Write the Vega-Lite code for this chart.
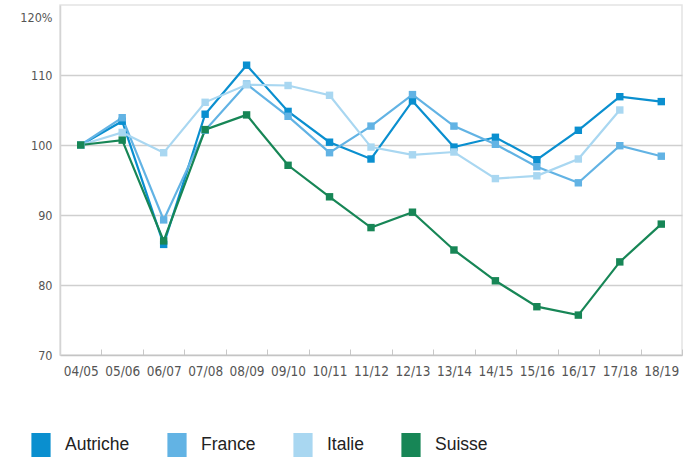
{
  "$schema": "https://vega.github.io/schema/vega-lite/v6.json",
  "width": 622,
  "height": 350,
  "autosize": {"type": "none"},
  "padding": {"left": 60, "top": 5, "right": 11, "bottom": 106},
  "background": "white",
  "config": {
    "view": {"stroke": "#e4e4e4", "strokeWidth": 1.5},
    "font": "DejaVu Sans Condensed"
  },
  "data": {
    "values": [
      {"saison": "04/05", "pays": "Autriche", "v": 100},
      {"saison": "05/06", "pays": "Autriche", "v": 103.4},
      {"saison": "06/07", "pays": "Autriche", "v": 85.8},
      {"saison": "07/08", "pays": "Autriche", "v": 104.4},
      {"saison": "08/09", "pays": "Autriche", "v": 111.4},
      {"saison": "09/10", "pays": "Autriche", "v": 104.8},
      {"saison": "10/11", "pays": "Autriche", "v": 100.4},
      {"saison": "11/12", "pays": "Autriche", "v": 98},
      {"saison": "12/13", "pays": "Autriche", "v": 106.3},
      {"saison": "13/14", "pays": "Autriche", "v": 99.7},
      {"saison": "14/15", "pays": "Autriche", "v": 101.1},
      {"saison": "15/16", "pays": "Autriche", "v": 97.9},
      {"saison": "16/17", "pays": "Autriche", "v": 102.1},
      {"saison": "17/18", "pays": "Autriche", "v": 106.9},
      {"saison": "18/19", "pays": "Autriche", "v": 106.2},
      {"saison": "04/05", "pays": "France", "v": 100},
      {"saison": "05/06", "pays": "France", "v": 103.9},
      {"saison": "06/07", "pays": "France", "v": 89.3},
      {"saison": "07/08", "pays": "France", "v": 102.1},
      {"saison": "08/09", "pays": "France", "v": 108.7},
      {"saison": "09/10", "pays": "France", "v": 104.1},
      {"saison": "10/11", "pays": "France", "v": 98.9},
      {"saison": "11/12", "pays": "France", "v": 102.7},
      {"saison": "12/13", "pays": "France", "v": 107.2},
      {"saison": "13/14", "pays": "France", "v": 102.7},
      {"saison": "14/15", "pays": "France", "v": 100.1},
      {"saison": "15/16", "pays": "France", "v": 96.9},
      {"saison": "16/17", "pays": "France", "v": 94.6},
      {"saison": "17/18", "pays": "France", "v": 99.9},
      {"saison": "18/19", "pays": "France", "v": 98.4},
      {"saison": "04/05", "pays": "Italie", "v": 100},
      {"saison": "05/06", "pays": "Italie", "v": 101.8},
      {"saison": "06/07", "pays": "Italie", "v": 98.9},
      {"saison": "07/08", "pays": "Italie", "v": 106.1},
      {"saison": "08/09", "pays": "Italie", "v": 108.6},
      {"saison": "09/10", "pays": "Italie", "v": 108.5},
      {"saison": "10/11", "pays": "Italie", "v": 107.1},
      {"saison": "11/12", "pays": "Italie", "v": 99.7},
      {"saison": "12/13", "pays": "Italie", "v": 98.6},
      {"saison": "13/14", "pays": "Italie", "v": 99},
      {"saison": "14/15", "pays": "Italie", "v": 95.2},
      {"saison": "15/16", "pays": "Italie", "v": 95.6},
      {"saison": "16/17", "pays": "Italie", "v": 98},
      {"saison": "17/18", "pays": "Italie", "v": 105},
      {"saison": "04/05", "pays": "Suisse", "v": 100},
      {"saison": "05/06", "pays": "Suisse", "v": 100.7},
      {"saison": "06/07", "pays": "Suisse", "v": 86.3},
      {"saison": "07/08", "pays": "Suisse", "v": 102.2},
      {"saison": "08/09", "pays": "Suisse", "v": 104.3},
      {"saison": "09/10", "pays": "Suisse", "v": 97.1},
      {"saison": "10/11", "pays": "Suisse", "v": 92.6},
      {"saison": "11/12", "pays": "Suisse", "v": 88.2},
      {"saison": "12/13", "pays": "Suisse", "v": 90.4},
      {"saison": "13/14", "pays": "Suisse", "v": 85},
      {"saison": "14/15", "pays": "Suisse", "v": 80.6},
      {"saison": "15/16", "pays": "Suisse", "v": 76.9},
      {"saison": "16/17", "pays": "Suisse", "v": 75.7},
      {"saison": "17/18", "pays": "Suisse", "v": 83.3},
      {"saison": "18/19", "pays": "Suisse", "v": 88.7}
    ]
  },
  "encoding": {
    "x": {
      "field": "saison",
      "type": "nominal",
      "sort": null,
      "scale": {"type": "band", "paddingInner": 0, "paddingOuter": 0},
      "axis": {
        "title": null,
        "labelAngle": 0,
        "tickBand": "extent",
        "tickSize": -6,
        "tickColor": "#c8c8c8",
        "domainColor": "#c4c4c4",
        "domainWidth": 1.5,
        "labelColor": "#555555",
        "labelFont": "DejaVu Sans Condensed",
        "labelFontSize": 13.5,
        "labelPadding": 15,
        "grid": false
      }
    },
    "y": {
      "field": "v",
      "type": "quantitative",
      "scale": {"domain": [70, 120], "nice": false, "zero": false},
      "axis": {
        "title": null,
        "values": [70, 80, 90, 100, 110, 120],
        "labelExpr": "datum.value == 120 ? '120%' : datum.label",
        "labelColor": "#555555",
        "labelFont": "DejaVu Sans Condensed",
        "labelFontSize": 12.5,
        "labelPadding": 8,
        "labelOffset": {"condition": {"test": "datum.value == 120", "value": 12}, "value": 0},
        "ticks": false,
        "domainColor": "#d4d4d4",
        "domainWidth": 1.5,
        "grid": true,
        "gridColor": {"condition": {"test": "datum.value == 120 || datum.value == 70", "value": "transparent"}, "value": "#cfcfcf"},
        "gridWidth": 1.5
      }
    },
    "color": {
      "field": "pays",
      "type": "nominal",
      "scale": {"domain": ["Autriche", "France", "Italie", "Suisse"], "range": ["#0a8fcf", "#62b3e4", "#a9d7f1", "#178656"]},
      "legend": {
        "title": null,
        "orient": "none",
        "legendX": -31,
        "legendY": 428,
        "direction": "horizontal",
        "symbolType": "M-0.8,-1H0.8V1H-0.8Z",
        "symbolSize": 576,
        "symbolStrokeWidth": 0,
        "symbolOpacity": 1,
        "labelFont": "Liberation Sans",
        "labelFontSize": 17.5,
        "labelColor": "#222222",
        "labelOffset": 12,
        "columnPadding": 35,
        "labelLimit": 200
      }
    }
  },
  "layer": [
    {
      "mark": {"type": "line", "strokeWidth": 2.2}
    },
    {
      "mark": {"type": "point", "shape": "square", "filled": true, "size": 55, "opacity": 1}
    }
  ]
}
